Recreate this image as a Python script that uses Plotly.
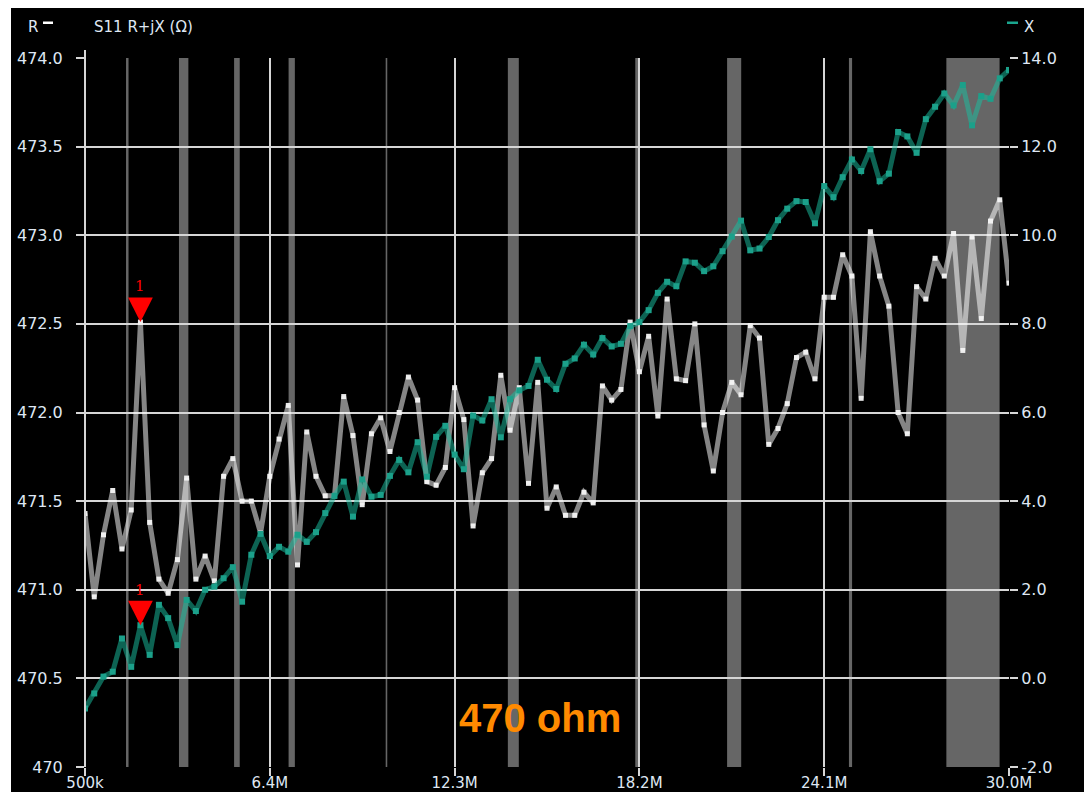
import plotly.graph_objects as go

# ---------------- data ----------------
F_START_MHZ = 0.5
F_STOP_MHZ = 30.0
N_POINTS = 101
freq_mhz = [F_START_MHZ + (F_STOP_MHZ - F_START_MHZ) * i / (N_POINTS - 1) for i in range(N_POINTS)]

r_ohm = [
    471.43, 470.96, 471.31, 471.56, 471.23, 471.45, 472.51, 471.38, 471.06, 470.98,
    471.17, 471.63, 471.06, 471.19, 471.05, 471.64, 471.74, 471.50, 471.50, 471.32,
    471.64, 471.85, 472.04, 471.14, 471.89, 471.64, 471.53, 471.53, 472.09, 471.87,
    471.48, 471.88, 471.97, 471.78, 472.00, 472.20, 472.07, 471.61, 471.59, 471.69,
    472.14, 471.96, 471.36, 471.66, 471.74, 472.21, 471.90, 472.14, 471.60, 472.17,
    471.46, 471.58, 471.42, 471.42, 471.55, 471.49, 472.15, 472.07, 472.13, 472.51,
    472.23, 472.43, 471.98, 472.64, 472.19, 472.18, 472.50, 471.93, 471.67, 472.00,
    472.17, 472.10, 472.49, 472.42, 471.82, 471.91, 472.05, 472.31, 472.34, 472.19,
    472.65, 472.65, 472.89, 472.77, 472.08, 473.02, 472.77, 472.60, 472.00, 471.88,
    472.71, 472.64, 472.87, 472.77, 473.01, 472.35, 472.99, 472.53, 473.08, 473.20,
    472.73,
]

x_ohm = [
    -0.68, -0.34, 0.04, 0.15, 0.90, 0.26, 1.20, 0.53, 1.66, 1.36,
    0.75, 1.77, 1.52, 2.00, 2.07, 2.26, 2.51, 1.73, 2.79, 3.26,
    2.76, 2.97, 2.86, 3.24, 3.08, 3.30, 3.73, 4.12, 4.44, 3.65,
    4.49, 4.10, 4.14, 4.57, 4.93, 4.65, 5.33, 4.55, 5.45, 5.70,
    5.05, 4.72, 5.93, 5.82, 6.30, 5.44, 6.30, 6.50, 6.60, 7.19,
    6.74, 6.53, 7.10, 7.22, 7.53, 7.31, 7.68, 7.49, 7.55, 7.95,
    8.04, 8.31, 8.70, 8.95, 8.85, 9.41, 9.38, 9.19, 9.30, 9.64,
    9.97, 10.33, 9.66, 9.70, 9.96, 10.34, 10.60, 10.77, 10.75, 10.27,
    11.11, 10.86, 11.31, 11.71, 11.45, 11.94, 11.22, 11.39, 12.33, 12.23,
    11.86, 12.62, 12.90, 13.20, 12.93, 13.39, 12.48, 13.14, 13.08, 13.54,
    13.73,
]

# amateur bands highlighted (MHz)
band_start = [1.81, 3.5, 5.26, 7.0, 10.1, 14.0, 18.068, 21.0, 24.89, 28.0]
band_stop = [1.89, 3.8, 5.44, 7.2, 10.15, 14.35, 18.168, 21.45, 24.99, 29.7]

x_tickvals = [0.5, 6.4, 12.3, 18.2, 24.1, 30.0]
x_ticktext = ["500k", "6.4M", "12.3M", "18.2M", "24.1M", "30.0M"]
r_tickvals = [470, 470.5, 471, 471.5, 472, 472.5, 473, 473.5, 474]
r_ticktext = ["470", "470.5", "471.0", "471.5", "472.0", "472.5", "473.0", "473.5", "474.0"]
x2_tickvals = [-2, 0, 2, 4, 6, 8, 10, 12, 14]
x2_ticktext = ["-2.0", "0.0", "2.0", "4.0", "6.0", "8.0", "10.0", "12.0", "14.0"]

marker_index = 6
marker_label = "1"
annotation_text = "470 ohm"

# ---------------- layout geometry ----------------
W, H = 1084, 792
ML, MR, MT, MB = 85, 75, 58, 25
PW = W - ML - MR
PH = H - MT - MB
R_RANGE = [470, 474]
X_RANGE = [-2, 14]
F_RANGE = [F_START_MHZ, F_STOP_MHZ]

def px_to_paper_x(px):
    return (px - ML) / PW

def px_to_paper_y(py):
    return (H - MB - py) / PH

TICK_COLOR = "#dfe7f3"
GRID = "#d6d6d6"
FONT = "DejaVu Sans"
TICK_SIZE = 16

fig = go.Figure()

fig.add_trace(go.Scatter(
    x=freq_mhz, y=x_ohm, yaxis="y2", mode="lines+markers",
    line=dict(color="rgba(24,190,160,0.52)", width=5),
    marker=dict(symbol="square", size=6, color="#1ba08a"),
    name="X", showlegend=False, hoverinfo="skip",
))
fig.add_trace(go.Scatter(
    x=freq_mhz, y=r_ohm, mode="lines+markers",
    line=dict(color="rgba(255,255,255,0.52)", width=5),
    marker=dict(symbol="square", size=5, color="rgba(245,245,245,0.95)"),
    name="R", showlegend=False, hoverinfo="skip",
))

shapes = []
# black panel on white page (white strips remain at top and left)
shapes.append(dict(type="rect", xref="paper", yref="paper",
                   x0=px_to_paper_x(11), x1=px_to_paper_x(W + 2), y0=px_to_paper_y(H + 2), y1=px_to_paper_y(8),
                   fillcolor="black", line=dict(width=0), layer="below"))
for b0, b1 in zip(band_start, band_stop):
    shapes.append(dict(type="rect", xref="x", yref="paper", x0=b0, x1=b1, y0=0, y1=1,
                       fillcolor="#666666", line=dict(width=0), layer="below"))

# marker triangles (size converted from pixels into data units)
px_per_mhz = PW / (F_RANGE[1] - F_RANGE[0])
px_per_r = PH / (R_RANGE[1] - R_RANGE[0])
px_per_x = PH / (X_RANGE[1] - X_RANGE[0])
half_w_px, h_px = 12.4, 24.5
fm = freq_mhz[marker_index]
for yv, yref, ppu in [(r_ohm[marker_index], "y", px_per_r), (x_ohm[marker_index], "y2", px_per_x)]:
    hw = half_w_px / px_per_mhz
    hh = h_px / ppu
    shapes.append(dict(type="path", xref="x", yref=yref,
                       path=f"M {fm - hw},{yv + hh} L {fm + hw},{yv + hh} L {fm},{yv} Z",
                       fillcolor="#ff0000", line=dict(width=0), layer="above"))

# left axis line extension above plot
shapes.append(dict(type="line", xref="paper", yref="paper", x0=0, x1=0,
                   y0=0, y1=px_to_paper_y(50), line=dict(color=GRID, width=2), layer="above"))
# legend dashes
shapes.append(dict(type="rect", xref="paper", yref="paper",
                   x0=px_to_paper_x(43), x1=px_to_paper_x(53), y0=px_to_paper_y(24), y1=px_to_paper_y(21.5),
                   fillcolor="white", line=dict(width=0), layer="above"))
shapes.append(dict(type="rect", xref="paper", yref="paper",
                   x0=px_to_paper_x(1007), x1=px_to_paper_x(1018), y0=px_to_paper_y(24), y1=px_to_paper_y(21.5),
                   fillcolor="#1aa58e", line=dict(width=0), layer="above"))

annotations = [
    # white left frame strip as an annotation box
    dict(text=" ", xref="paper", yref="paper", x=px_to_paper_x(0), y=px_to_paper_y(0),
         xanchor="left", yanchor="top", showarrow=False, width=11, height=H,
         bgcolor="#ffffff", borderwidth=0, borderpad=0,
         font=dict(family=FONT, size=10, color="#ffffff")),
    dict(text="R", xref="paper", yref="paper", x=px_to_paper_x(26), y=px_to_paper_y(27),
         xanchor="left", yanchor="middle", showarrow=False,
         font=dict(family=FONT, size=15, color=TICK_COLOR)),
    dict(text="S11 R+jX (Ω)", xref="paper", yref="paper", x=px_to_paper_x(92), y=px_to_paper_y(27),
         xanchor="left", yanchor="middle", showarrow=False,
         font=dict(family=FONT, size=15, color=TICK_COLOR)),
    dict(text="X", xref="paper", yref="paper", x=px_to_paper_x(1022), y=px_to_paper_y(27),
         xanchor="left", yanchor="middle", showarrow=False,
         font=dict(family=FONT, size=15, color=TICK_COLOR)),
    dict(text=annotation_text, xref="paper", yref="paper", x=px_to_paper_x(540), y=px_to_paper_y(718),
         xanchor="center", yanchor="middle", showarrow=False,
         font=dict(family="Liberation Sans", size=40, color="#ff8a00", weight="bold")),
    dict(text=marker_label, xref="x", yref="y", x=fm, y=r_ohm[marker_index], yshift=h_px + 12,
         xanchor="center", yanchor="middle", showarrow=False,
         font=dict(family="DejaVu Serif", size=15, color="#ff0000")),
    dict(text=marker_label, xref="x", yref="y2", x=fm, y=x_ohm[marker_index], yshift=h_px + 11,
         xanchor="center", yanchor="middle", showarrow=False,
         font=dict(family="DejaVu Serif", size=15, color="#ff0000")),
]

fig.update_layout(
    width=W, height=H,
    margin=dict(l=ML, r=MR, t=MT, b=MB, pad=0, autoexpand=False),
    paper_bgcolor="white", plot_bgcolor="black",
    showlegend=False,
    shapes=shapes, annotations=annotations,
    xaxis=dict(range=F_RANGE, tickvals=x_tickvals, ticktext=x_ticktext, automargin=False,
               showgrid=True, gridcolor=GRID, gridwidth=1.6, zeroline=False,
               ticks="outside", ticklen=8, tickwidth=1.6, tickcolor=GRID,
               tickfont=dict(family=FONT, size=15, color=TICK_COLOR),
               ticklabelstandoff=-6, showline=False, fixedrange=True),
    yaxis=dict(range=R_RANGE, tickvals=r_tickvals, ticktext=r_ticktext, automargin=False,
               showgrid=True, gridcolor=GRID, gridwidth=2, zeroline=False,
               ticks="outside", ticklen=8, tickwidth=2, tickcolor=GRID,
               tickfont=dict(family=FONT, size=TICK_SIZE, color=TICK_COLOR),
               ticklabelstandoff=10, showline=False),
    yaxis2=dict(range=X_RANGE, tickvals=x2_tickvals, ticktext=x2_ticktext, automargin=False,
                overlaying="y", side="right", showgrid=False, zeroline=False,
                ticks="outside", ticklen=8, tickwidth=2, tickcolor=GRID,
                tickfont=dict(family=FONT, size=TICK_SIZE, color=TICK_COLOR),
                showline=False),
)

fig.write_html("out.html")
